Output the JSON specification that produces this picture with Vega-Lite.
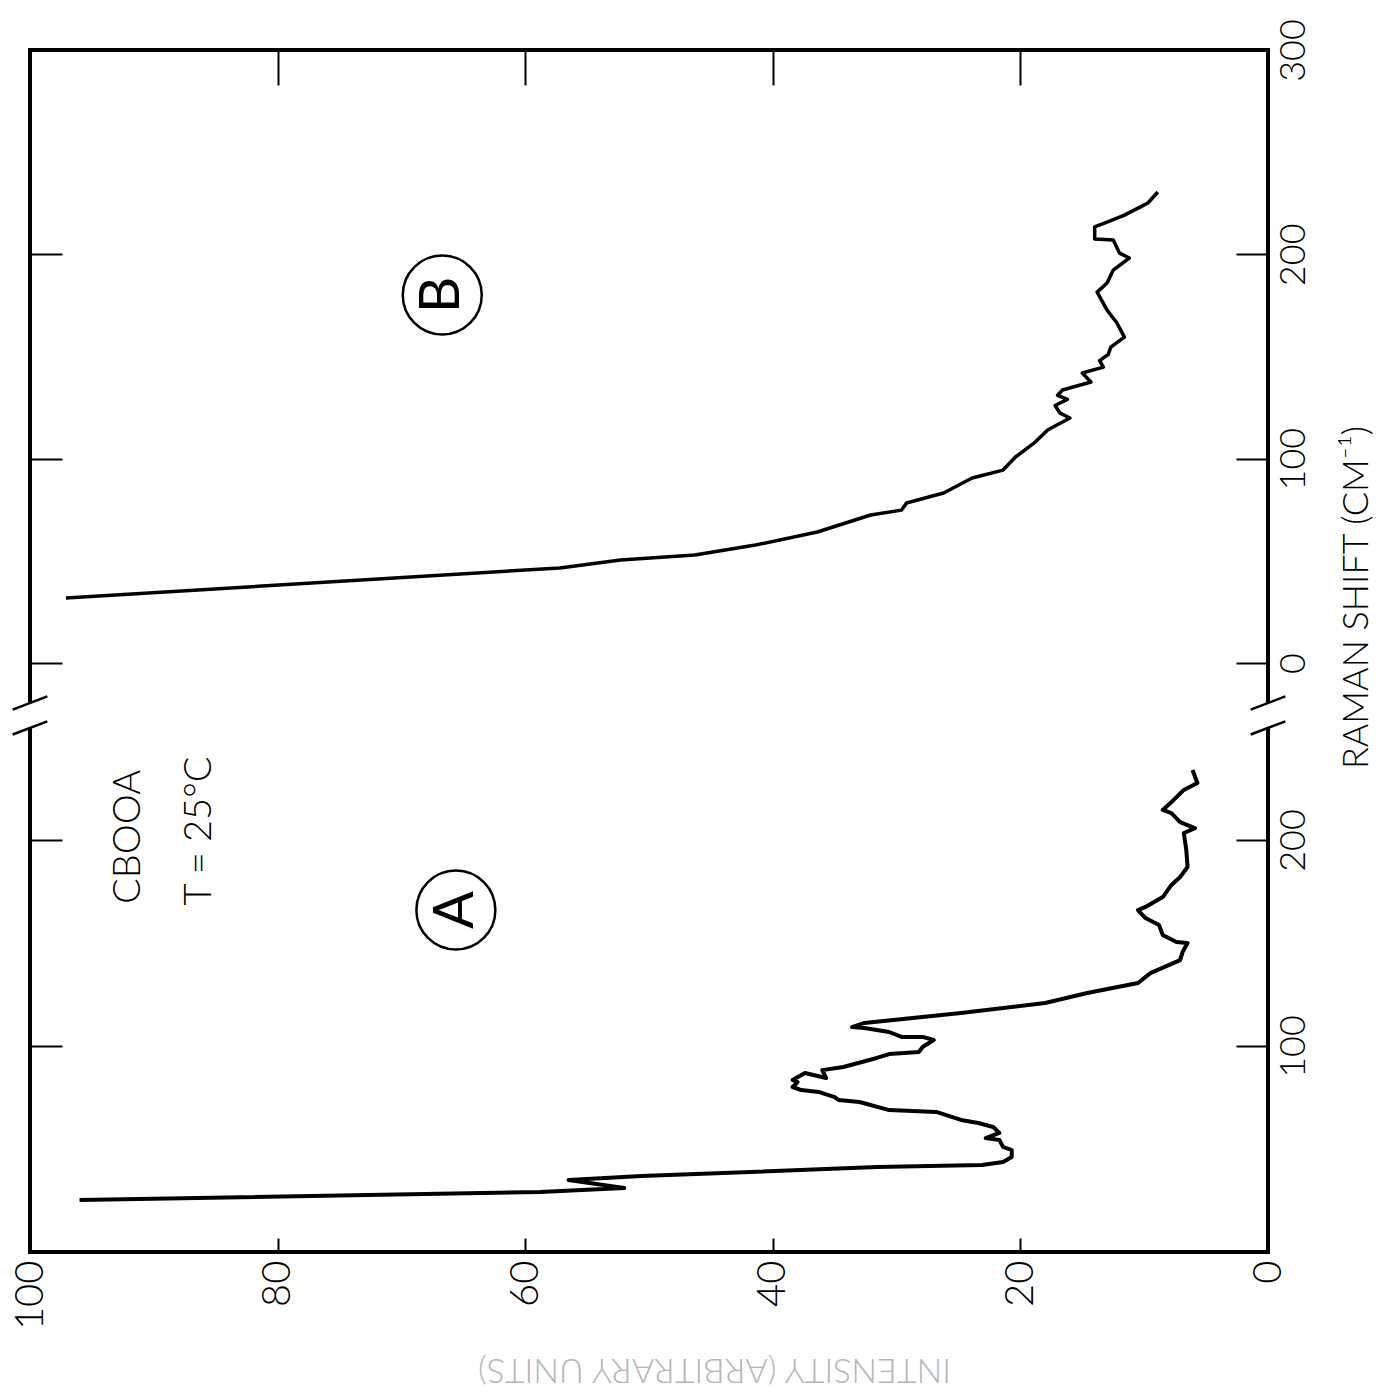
{
  "$schema": "https://vega.github.io/schema/vega-lite/v6.json",
  "width": 1238,
  "height": 1202,
  "autosize": "none",
  "padding": {"left": 30, "top": 50, "right": 124, "bottom": 141},
  "background": "white",
  "config": {
    "view": {"stroke": "black", "strokeWidth": 4},
    "axis": {"domain": false, "grid": false, "tickColor": "black", "tickWidth": 2, "labelColor": "black", "labelFont": "Lato", "labelFontWeight": 300, "labelFontSize": 36, "titleFont": "Lato", "titleColor": "black", "labelFlush": false, "labelOverlap": false, "labelBound": false, "zindex": 0},
    "text": {"font": "Lato"}
  },
  "datasets": {
    "B": [
      {"I": 97.1, "S": 31.8}, {"I": 57.2, "S": 46.5}, {"I": 52.3, "S": 50.4}, {"I": 46.3, "S": 52.8},
      {"I": 41.4, "S": 57.7}, {"I": 36.4, "S": 64.1}, {"I": 32.1, "S": 72.4}, {"I": 29.6, "S": 74.8},
      {"I": 29.2, "S": 78.3}, {"I": 26.2, "S": 83.2}, {"I": 23.9, "S": 90.5}, {"I": 21.4, "S": 94.4},
      {"I": 20.4, "S": 100.8}, {"I": 18.8, "S": 108.1}, {"I": 17.8, "S": 114.0}, {"I": 16.0, "S": 119.9},
      {"I": 16.8, "S": 122.3}, {"I": 17.2, "S": 126.0}, {"I": 16.2, "S": 129.0}, {"I": 17.0, "S": 131.0},
      {"I": 16.6, "S": 133.6}, {"I": 14.3, "S": 137.5}, {"I": 15.0, "S": 141.9}, {"I": 13.3, "S": 144.8},
      {"I": 13.6, "S": 148.0}, {"I": 12.9, "S": 151.0}, {"I": 12.7, "S": 154.6}, {"I": 11.6, "S": 159.5},
      {"I": 12.2, "S": 166.4}, {"I": 13.0, "S": 172.7}, {"I": 13.8, "S": 181.5}, {"I": 13.0, "S": 186.0},
      {"I": 12.5, "S": 192.3}, {"I": 11.2, "S": 198.2}, {"I": 12.0, "S": 200.6}, {"I": 12.5, "S": 207.0},
      {"I": 14.0, "S": 207.5}, {"I": 14.0, "S": 213.4}, {"I": 13.0, "S": 215.8}, {"I": 11.6, "S": 219.2},
      {"I": 10.3, "S": 223.2}, {"I": 9.7, "S": 225.1}, {"I": 8.9, "S": 230.5}
    ],
    "A": [
      {"I": 96.0, "S": 25.2}, {"I": 58.8, "S": 29.1}, {"I": 52.0, "S": 31.1}, {"I": 56.5, "S": 35.0},
      {"I": 50.6, "S": 36.9}, {"I": 41.8, "S": 38.8}, {"I": 31.6, "S": 41.3}, {"I": 23.1, "S": 42.2},
      {"I": 21.4, "S": 43.7}, {"I": 20.7, "S": 46.1}, {"I": 20.7, "S": 49.5}, {"I": 21.4, "S": 51.0},
      {"I": 21.7, "S": 54.4}, {"I": 22.8, "S": 55.3}, {"I": 21.7, "S": 57.8}, {"I": 22.2, "S": 60.7},
      {"I": 23.4, "S": 62.6}, {"I": 24.8, "S": 64.1}, {"I": 26.8, "S": 68.0}, {"I": 30.6, "S": 68.9},
      {"I": 33.0, "S": 72.8}, {"I": 34.7, "S": 73.8}, {"I": 35.0, "S": 75.2}, {"I": 36.3, "S": 77.7},
      {"I": 37.7, "S": 78.6}, {"I": 38.4, "S": 80.1}, {"I": 38.0, "S": 82.5}, {"I": 38.4, "S": 83.5},
      {"I": 37.4, "S": 86.9}, {"I": 35.7, "S": 84.5}, {"I": 36.0, "S": 88.3}, {"I": 34.3, "S": 89.8},
      {"I": 31.6, "S": 94.2}, {"I": 30.6, "S": 96.1}, {"I": 28.2, "S": 97.1}, {"I": 27.9, "S": 99.5},
      {"I": 27.0, "S": 102.9}, {"I": 27.9, "S": 104.4}, {"I": 29.6, "S": 104.4}, {"I": 30.6, "S": 106.8},
      {"I": 31.6, "S": 107.8}, {"I": 32.6, "S": 108.7}, {"I": 33.6, "S": 109.2}, {"I": 32.6, "S": 111.2},
      {"I": 24.8, "S": 116.0}, {"I": 18.0, "S": 120.9}, {"I": 14.6, "S": 125.7}, {"I": 10.5, "S": 130.6},
      {"I": 9.5, "S": 135.4}, {"I": 7.1, "S": 141.7}, {"I": 6.9, "S": 145.6}, {"I": 6.5, "S": 150.0},
      {"I": 7.4, "S": 150.5}, {"I": 8.5, "S": 153.9}, {"I": 8.8, "S": 158.7}, {"I": 9.9, "S": 162.1},
      {"I": 10.5, "S": 166.0}, {"I": 9.9, "S": 167.5}, {"I": 8.5, "S": 172.3}, {"I": 7.8, "S": 178.2},
      {"I": 7.1, "S": 182.0}, {"I": 6.5, "S": 186.9}, {"I": 6.6, "S": 195.1}, {"I": 6.8, "S": 203.4},
      {"I": 5.9, "S": 205.8}, {"I": 7.1, "S": 208.7}, {"I": 7.8, "S": 213.1}, {"I": 8.5, "S": 214.6},
      {"I": 7.8, "S": 218.4}, {"I": 6.8, "S": 224.3}, {"I": 5.7, "S": 227.7}, {"I": 6.1, "S": 234.0}
    ],
    "circA": [{"I": 65.6, "S": 166.0, "t": "A"}],
    "circB": [{"I": 66.7, "S": 180.1, "t": "B"}],
    "txt": [{"I": 92.0, "S": 201.5, "t": "CBOOA"}, {"I": 86.3, "S": 204.4, "t": "T = 25°C"}],
    "slashes": [
      {"x1": 101.4, "x2": 98.6, "y1": 263.3, "y2": 269.7},
      {"x1": 101.4, "x2": 98.6, "y1": 251.2, "y2": 257.6},
      {"x1": 1.4, "x2": -1.4, "y1": 263.3, "y2": 269.7},
      {"x1": 1.4, "x2": -1.4, "y1": 251.2, "y2": 257.6}
    ],
    "gaps": [
      {"x1": 100, "y1": 254.4, "y2": 266.5},
      {"x1": 0, "y1": 254.4, "y2": 266.5}
    ]
  },
  "resolve": {"scale": {"x": "independent", "y": "independent"}, "axis": {"x": "independent", "y": "independent"}},
  "layer": [
    {
      "data": {"name": "B"},
      "mark": {"type": "line", "color": "black", "strokeWidth": 3.5, "strokeJoin": "round"},
      "encoding": {
        "x": {"field": "I", "type": "quantitative", "scale": {"domain": [0, 100], "reverse": true, "nice": false, "zero": false},
          "axis": {"orient": "bottom", "values": [0, 20, 40, 60, 80, 100], "offset": -14, "tickSize": 14, "labelAngle": 270, "labelPadding": 8, "labelFontSize": 40,
            "title": "INTENSITY (ARBITRARY UNITS)", "titleAngle": 180, "titleX": 684, "titleY": 130, "titleAlign": "center", "titleBaseline": "middle", "titleFontSize": 34, "titleFontWeight": 300, "titleColor": "#b5b5b5"}},
        "y": {"field": "S", "type": "quantitative", "scale": {"domain": [-288.3, 300], "nice": false, "zero": false},
          "axis": {"orient": "right", "values": [0, 100, 200, 300], "offset": -32, "tickSize": 32, "labelAngle": 270, "labelPadding": 8,
            "title": "RAMAN SHIFT (CM⁻¹)", "titleAngle": 270, "titleX": 120, "titleY": 547, "titleAlign": "center", "titleBaseline": "middle", "titleFontSize": 36, "titleFontWeight": 300}},
        "order": {"value": null}
      }
    },
    {
      "data": {"name": "A"},
      "mark": {"type": "line", "color": "black", "strokeWidth": 4, "strokeJoin": "round"},
      "encoding": {
        "x": {"field": "I", "type": "quantitative", "scale": {"domain": [0, 100], "reverse": true, "nice": false, "zero": false},
          "axis": {"orient": "top", "values": [20, 40, 60, 80], "offset": -35, "tickSize": 35, "labels": false, "title": null}},
        "y": {"field": "S", "type": "quantitative", "scale": {"domain": [0, 583.5], "nice": false, "zero": false},
          "axis": {"orient": "right", "values": [100, 200], "offset": -32, "tickSize": 32, "labelAngle": 270, "labelPadding": 8, "title": null}},
        "order": {"value": null}
      }
    },
    {
      "data": {"name": "circB"},
      "mark": {"type": "point", "shape": "circle", "filled": false, "size": 6241, "stroke": "black", "strokeWidth": 2.5, "opacity": 1},
      "encoding": {
        "x": {"field": "I", "type": "quantitative", "scale": {"domain": [0, 100], "reverse": true, "nice": false, "zero": false}, "axis": null},
        "y": {"field": "S", "type": "quantitative", "scale": {"domain": [-288.3, 300], "nice": false, "zero": false},
          "axis": {"orient": "left", "values": [0, 100, 200], "offset": -32, "tickSize": 32, "labels": false, "title": null}}
      }
    },
    {
      "data": {"name": "circA"},
      "mark": {"type": "point", "shape": "circle", "filled": false, "size": 6241, "stroke": "black", "strokeWidth": 2.5, "opacity": 1},
      "encoding": {
        "x": {"field": "I", "type": "quantitative", "scale": {"domain": [0, 100], "reverse": true, "nice": false, "zero": false}, "axis": null},
        "y": {"field": "S", "type": "quantitative", "scale": {"domain": [0, 583.5], "nice": false, "zero": false},
          "axis": {"orient": "left", "values": [100, 200], "offset": -32, "tickSize": 32, "labels": false, "title": null}}
      }
    },
    {
      "data": {"name": "circB"},
      "mark": {"type": "text", "angle": 270, "fontSize": 56, "fontWeight": 400, "font": "Lato", "align": "center", "baseline": "middle", "color": "black"},
      "encoding": {
        "x": {"field": "I", "type": "quantitative", "scale": {"domain": [0, 100], "reverse": true, "nice": false, "zero": false}, "axis": null},
        "y": {"field": "S", "type": "quantitative", "scale": {"domain": [-288.3, 300], "nice": false, "zero": false}, "axis": null},
        "text": {"field": "t"}
      }
    },
    {
      "data": {"name": "circA"},
      "mark": {"type": "text", "angle": 270, "fontSize": 56, "fontWeight": 400, "font": "Lato", "align": "center", "baseline": "middle", "color": "black"},
      "encoding": {
        "x": {"field": "I", "type": "quantitative", "scale": {"domain": [0, 100], "reverse": true, "nice": false, "zero": false}, "axis": null},
        "y": {"field": "S", "type": "quantitative", "scale": {"domain": [0, 583.5], "nice": false, "zero": false}, "axis": null},
        "text": {"field": "t"}
      }
    },
    {
      "data": {"name": "txt"},
      "mark": {"type": "text", "angle": 270, "fontSize": 38, "fontWeight": 300, "font": "Lato", "align": "center", "baseline": "middle", "color": "black"},
      "encoding": {
        "x": {"field": "I", "type": "quantitative", "scale": {"domain": [0, 100], "reverse": true, "nice": false, "zero": false}, "axis": null},
        "y": {"field": "S", "type": "quantitative", "scale": {"domain": [0, 583.5], "nice": false, "zero": false}, "axis": null},
        "text": {"field": "t"}
      }
    },
    {
      "data": {"name": "gaps"},
      "mark": {"type": "rule", "color": "white", "strokeWidth": 9},
      "encoding": {
        "x": {"field": "x1", "type": "quantitative", "scale": {"domain": [0, 100], "reverse": true, "nice": false, "zero": false}, "axis": null},
        "y": {"field": "y1", "type": "quantitative", "scale": {"domain": [0, 583.5], "nice": false, "zero": false}, "axis": null},
        "y2": {"field": "y2"}
      }
    },
    {
      "data": {"name": "slashes"},
      "mark": {"type": "rule", "color": "black", "strokeWidth": 2.5},
      "encoding": {
        "x": {"field": "x1", "type": "quantitative", "scale": {"domain": [0, 100], "reverse": true, "nice": false, "zero": false}, "axis": null},
        "x2": {"field": "x2"},
        "y": {"field": "y1", "type": "quantitative", "scale": {"domain": [0, 583.5], "nice": false, "zero": false}, "axis": null},
        "y2": {"field": "y2"}
      }
    }
  ]
}
